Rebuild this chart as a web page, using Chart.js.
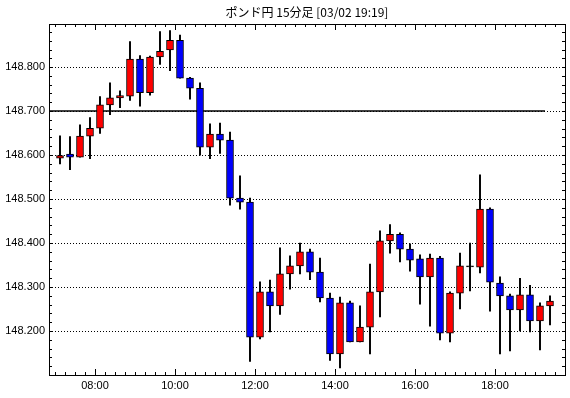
<!DOCTYPE html>
<html lang="ja">
<head>
    <meta charset="UTF-8">
    <title>ポンド円 15分足</title>
    <script src="https://cdn.jsdelivr.net/npm/chart.js"></script>
    <style>
        html, body { margin: 0; padding: 0; background: #ffffff; }
        .chart-container { position: relative; width: 570px; height: 398px; }
    </style>
</head>
<body>
    <div class="chart-container">
        <canvas id="fxChart"></canvas>
    </div>

    <script>
        // 15-minute candles, GBP/JPY
        const chartTitle = 'ポンド円 15分足 [03/02 19:19]';
        const times = ['07:00','07:15','07:30','07:45','08:00','08:15','08:30','08:45','09:00','09:15',
                       '09:30','09:45','10:00','10:15','10:30','10:45','11:00','11:15','11:30','11:45',
                       '12:00','12:15','12:30','12:45','13:00','13:15','13:30','13:45','14:00','14:15',
                       '14:30','14:45','15:00','15:15','15:30','15:45','16:00','16:15','16:30','16:45',
                       '17:00','17:15','17:30','17:45','18:00','18:15','18:30','18:45','19:00','19:15'];
        const opens  = [148.593,148.602,148.595,148.643,148.661,148.714,148.730,148.734,148.818,148.742,
                        148.823,148.839,148.861,148.775,148.752,148.618,148.648,148.634,148.502,148.493,
                        148.186,148.289,148.257,148.330,148.348,148.380,148.334,148.275,148.148,148.264,
                        148.175,148.209,148.289,148.405,148.420,148.386,148.364,148.323,148.366,148.195,
                        148.286,148.346,148.345,148.477,148.309,148.280,148.248,148.282,148.223,148.257];
        const highs  = [148.644,148.642,148.669,148.685,148.733,148.764,148.746,148.858,148.826,148.825,
                        148.881,148.883,148.873,148.777,148.764,148.671,148.673,148.652,148.553,148.502,
                        148.312,148.316,148.389,148.371,148.400,148.386,148.366,148.286,148.277,148.268,
                        148.257,148.352,148.428,148.442,148.423,148.398,148.373,148.375,148.370,148.289,
                        148.377,148.400,148.555,148.480,148.323,148.284,148.320,148.304,148.264,148.280];
        const lows   = [148.580,148.567,148.595,148.592,148.649,148.692,148.708,148.724,148.711,148.736,
                        148.806,148.792,148.775,148.727,148.600,148.592,148.604,148.486,148.477,148.131,
                        148.182,148.198,148.238,148.295,148.330,148.317,148.266,148.133,148.116,148.175,
                        148.175,148.148,148.232,148.377,148.357,148.336,148.261,148.211,148.180,148.175,
                        148.250,148.291,148.332,148.245,148.148,148.155,148.200,148.198,148.157,148.214];
        const closes = [148.599,148.595,148.643,148.661,148.714,148.730,148.735,148.818,148.742,148.823,
                        148.836,148.861,148.775,148.752,148.618,148.648,148.634,148.502,148.493,148.186,
                        148.289,148.257,148.330,148.348,148.380,148.334,148.275,148.148,148.264,148.175,
                        148.209,148.289,148.405,148.420,148.386,148.361,148.323,148.366,148.195,148.286,
                        148.348,148.348,148.477,148.311,148.280,148.248,148.282,148.223,148.257,148.268];
        const refLevel = 148.700;
        const yTickValues = [148.2, 148.3, 148.4, 148.5, 148.6, 148.7, 148.8];
        const xTickLabels = ['08:00', '10:00', '12:00', '14:00', '16:00', '18:00'];
        const yMin = 148.100, yMax = 148.898;
        const xMin = '06:51', xMax = '19:45';

        function toMin(s) {
            const p = s.split(':');
            return Number(p[0]) * 60 + Number(p[1]);
        }
        function fmtTime(m) {
            const h = Math.floor(m / 60), mm = m % 60;
            return String(h).padStart(2, '0') + ':' + String(mm).padStart(2, '0');
        }

        const bodies = times.map((t, i) => ({ x: toMin(t) + 7.5, y: [opens[i], closes[i]] }));
        const wicks = times.map((t, i) => ({ x: toMin(t) + 7.5, y: [lows[i], highs[i]] }));

        function candleColor(ctx) {
            const i = ctx.dataIndex;
            const d = closes[i] - opens[i];
            if (Math.abs(d) < 0.003) return '#000000';
            return d > 0 ? '#ff0000' : '#0000ff';
        }

        // frame, inward ticks and title
        const framePlugin = {
            id: 'frame',
            afterDraw(chart) {
                const ctx = chart.ctx;
                const a = chart.chartArea;
                const xs = chart.scales.x, ys = chart.scales.y;
                ctx.save();
                ctx.strokeStyle = '#000';
                ctx.lineWidth = 1;
                ctx.beginPath();
                // y minor ticks on both sides
                for (let v = 148.12; v < yMax; v += 0.02) {
                    const y = Math.round(ys.getPixelForValue(v)) + 0.5;
                    ctx.moveTo(a.left, y); ctx.lineTo(a.left + 3, y);
                    ctx.moveTo(a.right, y); ctx.lineTo(a.right - 3, y);
                }
                // x ticks every 15 minutes, longer on the even hours
                for (let m = 420; m < toMin(xMax); m += 15) {
                    const x = Math.round(xs.getPixelForValue(m)) + 0.5;
                    const len = (m % 120 === 0) ? 6 : 3;
                    ctx.moveTo(x, a.bottom); ctx.lineTo(x, a.bottom - len);
                    ctx.moveTo(x, a.top); ctx.lineTo(x, a.top + len);
                }
                ctx.stroke();
                ctx.strokeRect(Math.round(a.left) + 0.5, Math.round(a.top) + 0.5,
                               Math.round(a.right - a.left), Math.round(a.bottom - a.top));
                ctx.fillStyle = '#000';
                ctx.font = '12px "Noto Sans CJK JP", sans-serif';
                ctx.textAlign = 'center';
                ctx.textBaseline = 'middle';
                ctx.fillText(chartTitle, (a.left + a.right) / 2, 12);
                ctx.restore();
            }
        };

        new Chart(document.getElementById('fxChart'), {
            type: 'bar',
            data: {
                datasets: [
                    {
                        type: 'line',
                        data: [{ x: toMin(xMin), y: refLevel }, { x: toMin(times[times.length - 1]), y: refLevel }],
                        borderColor: '#000000',
                        borderWidth: 1.5,
                        pointRadius: 0,
                        order: 2
                    },
                    {
                        data: wicks,
                        backgroundColor: '#000000',
                        borderWidth: 0,
                        barThickness: 1.3,
                        grouped: false,
                        order: 1
                    },
                    {
                        data: bodies,
                        backgroundColor: candleColor,
                        borderColor: '#000000',
                        borderWidth: 1,
                        borderSkipped: false,
                        barThickness: 7,
                        grouped: false,
                        order: 0
                    }
                ]
            },
            options: {
                responsive: true,
                maintainAspectRatio: false,
                animation: false,
                layout: { padding: { top: 24, right: 5, left: 0, bottom: 0 } },
                plugins: {
                    legend: { display: false },
                    title: { display: false },
                    tooltip: { enabled: false }
                },
                scales: {
                    x: {
                        type: 'linear',
                        offset: false,
                        min: toMin(xMin),
                        max: toMin(xMax),
                        grid: { display: false, drawTicks: false },
                        border: { display: false },
                        afterBuildTicks: (scale) => { scale.ticks = xTickLabels.map(t => ({ value: toMin(t) })); },
                        afterFit: (scale) => { scale.height = 23; },
                        ticks: {
                            maxRotation: 0,
                            autoSkip: false,
                            padding: 4,
                            color: '#000',
                            font: { family: 'Liberation Sans', size: 11 },
                            callback: (v) => fmtTime(v)
                        }
                    },
                    y: {
                        min: yMin,
                        max: yMax,
                        grid: { color: '#000000', lineWidth: 1, drawTicks: false },
                        border: { display: false, dash: [1, 2] },
                        afterBuildTicks: (scale) => { scale.ticks = yTickValues.map(v => ({ value: v })); },
                        afterFit: (scale) => { scale.width = 49; },
                        ticks: {
                            padding: 4,
                            color: '#000',
                            font: { family: 'Liberation Sans', size: 11 },
                            callback: (v) => Number(v).toFixed(3)
                        }
                    }
                }
            },
            plugins: [framePlugin]
        });
    </script>
</body>
</html>
